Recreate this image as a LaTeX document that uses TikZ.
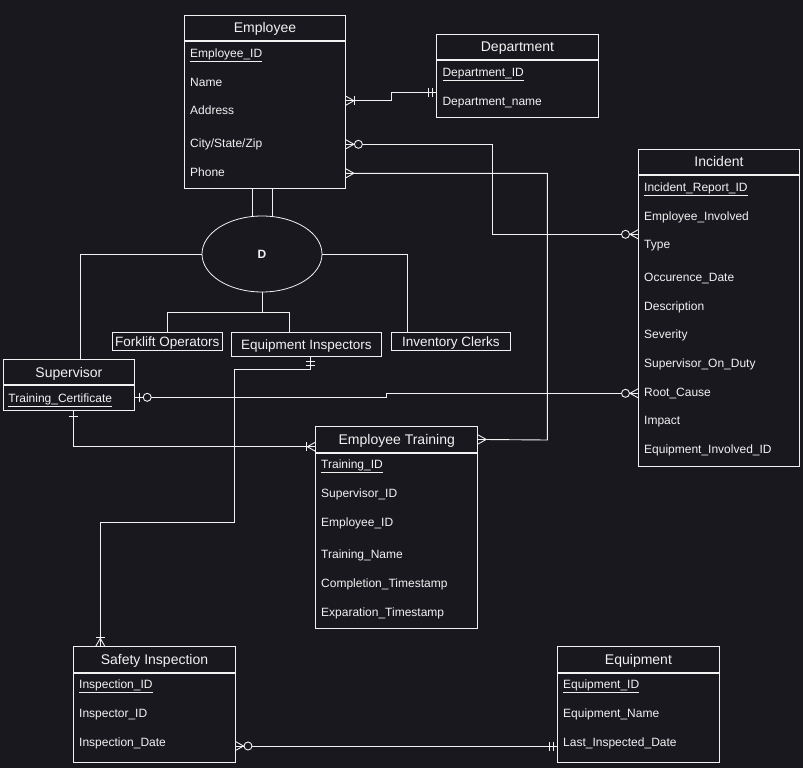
\documentclass[tikz,border=0pt]{standalone}
\usepackage{fontspec}
\setmainfont{Liberation Sans}
\usetikzlibrary{calc,shapes.geometric}
\definecolor{canvas}{HTML}{19181F}
\definecolor{ink}{HTML}{F2F2F2}

\tikzset{
  every node/.style={text=ink, inner sep=0pt},
  wire/.style={draw=ink, line width=0.9pt},
  entbox/.style={draw=ink, line width=0.9pt, rectangle, anchor=north west},
  enttitle/.style={entbox, font=\fontsize{14}{14}\selectfont, text height=10pt, text depth=0pt},
  attr/.style={anchor=west, font=\fontsize{12}{12}\selectfont, text height=8.6pt, text depth=0pt},
  subbox/.style={draw=ink, line width=0.9pt, rectangle, anchor=north west,
    font=\fontsize{13.5}{13.5}\selectfont, text height=9.7pt, text depth=0pt},
  % crow's foot notation, drawn with the entity at the origin and the line along +x
  crow/.pic={\draw[wire] (0,-4.5) -- (8,0) -- (0,4.5);},
  onemany/.pic={\draw[wire] (0,-4.5) -- (8,0) -- (0,4.5); \draw[wire] (8.5,-4.5) -- (8.5,4.5);},
  zeromany/.pic={\draw[wire] (0,-4.5) -- (8,0) -- (0,4.5); \draw[wire, fill=canvas] (12.5,0) circle (4pt);},
  mandone/.pic={\draw[wire] (4,-4.5) -- (4,4.5); \draw[wire] (8,-4.5) -- (8,4.5);},
  zeroone/.pic={\draw[wire] (4,-4.5) -- (4,4.5); \draw[wire, fill=canvas] (12,0) circle (4pt);},
  onlyone/.pic={\draw[wire] (5,-4.5) -- (5,4.5);},
}

\begin{document}
\begin{tikzpicture}[x=1pt, y=-1pt]
\useasboundingbox (0,0) rectangle (803,768);
\fill[canvas] (0,0) rectangle (803,768);

% ---------- Employee ----------
\node[enttitle, minimum width=161pt, minimum height=25pt] (emp) at (184,15) {Employee};
\node[entbox, minimum width=161pt, minimum height=147pt] (empb) at (emp.south west) {};
\node[attr] (empid) at (190,53.3) {\underline{Employee\_ID}};
\node[attr] (empname) at (190,81.7) {Name};
\node[attr] (empaddr) at (190,110) {Address};
\node[attr] (empcity) at (190,143.3) {City/State/Zip};
\node[attr] (empphone) at (190,172) {Phone};

% ---------- Department ----------
\node[enttitle, minimum width=162pt, minimum height=25pt] (dep) at (436,34) {Department};
\node[entbox, minimum width=162pt, minimum height=57pt] (depb) at (dep.south west) {};
\node[attr] (depid) at (442.3,72.3) {\underline{Department\_ID}};
\node[attr] (depname) at (442.3,100.7) {Department\_name};

% ---------- Incident ----------
\node[enttitle, minimum width=161pt, minimum height=25pt] (inc) at (638,149) {Incident};
\node[entbox, minimum width=161pt, minimum height=291pt] (incb) at (inc.south west) {};
\node[attr] (incid) at (644,186.7) {\underline{Incident\_Report\_ID}};
\node[attr] (incemp) at (644,215.7) {Employee\_Involved};
\node[attr] (inctype) at (644,244.3) {Type};
\node[attr] (incdate) at (644,276.7) {Occurence\_Date};
\node[attr] (incdesc) at (644,305.7) {Description};
\node[attr] (incsev) at (644,334.3) {Severity};
\node[attr] (incsup) at (644,362.7) {Supervisor\_On\_Duty};
\node[attr] (inccause) at (644,391.7) {Root\_Cause};
\node[attr] (incimp) at (644,420.3) {Impact};
\node[attr] (inceq) at (644,449) {Equipment\_Involved\_ID};

% ---------- Supervisor ----------
\node[enttitle, minimum width=131.6pt, minimum height=25pt] (sup) at (2.7,359.3) {Supervisor};
\node[entbox, minimum width=131.6pt, minimum height=25pt] (supb) at (sup.south west) {};
\node[attr] (supcert) at (8.3,397.7) {\underline{Training\_Certificate}};

% ---------- Employee Training ----------
\node[enttitle, minimum width=162pt, minimum height=25.4pt] (trn) at (315.3,426.3) {Employee Training};
\node[entbox, minimum width=162pt, minimum height=175.6pt] (trnb) at (trn.south west) {};
\node[attr] (trnid) at (321,464.3) {\underline{Training\_ID}};
\node[attr] (trnsup) at (321,492.7) {Supervisor\_ID};
\node[attr] (trnemp) at (321,521.7) {Employee\_ID};
\node[attr] (trnname) at (321,554.3) {Training\_Name};
\node[attr] (trncomp) at (321,583) {Completion\_Timestamp};
\node[attr] (trnexp) at (321,611.7) {Exparation\_Timestamp};

% ---------- Safety Inspection ----------
\node[enttitle, minimum width=161.2pt, minimum height=25.4pt] (saf) at (73.4,646.3) {Safety Inspection};
\node[entbox, minimum width=161.2pt, minimum height=89.3pt] (safb) at (saf.south west) {};
\node[attr] (safid) at (79,684.3) {\underline{Inspection\_ID}};
\node[attr] (safinsp) at (79,712.7) {Inspector\_ID};
\node[attr] (safdate) at (79,741.7) {Inspection\_Date};

% ---------- Equipment ----------
\node[enttitle, minimum width=162pt, minimum height=25.4pt] (eqp) at (557,646.3) {Equipment};
\node[entbox, minimum width=162pt, minimum height=89.3pt] (eqpb) at (eqp.south west) {};
\node[attr] (eqpid) at (563,684.3) {\underline{Equipment\_ID}};
\node[attr] (eqpname) at (563,712.7) {Equipment\_Name};
\node[attr] (eqpdate) at (563,741.7) {Last\_Inspected\_Date};

% ---------- Specialisation of Employee ----------
\node[ellipse, draw=ink, line width=0.8pt, fill=canvas, minimum width=120pt, minimum height=76pt,
  font=\bfseries\fontsize{12}{12}\selectfont, text height=8.6pt, text depth=0pt] (disj) at (262,254) {D};
\node[subbox, minimum width=110pt, minimum height=18.6pt] (fork) at (111.7,331.7) {Forklift Operators};
\node[subbox, minimum width=150pt, minimum height=24.6pt] (insp) at (231,331.7) {Equipment Inspectors};
\node[subbox, minimum width=119.3pt, minimum height=18.6pt] (clerk) at (390.7,331.7) {Inventory Clerks};

\draw[wire] ([xshift=-10pt]disj.north) -- ([xshift=-10pt]disj.north |- empb.south);
\draw[wire] ([xshift=10pt]disj.north) -- ([xshift=10pt]disj.north |- empb.south);
\draw[wire] (disj.west) -- (80.7,254) -- (sup.north -| 80.7,0);
\draw[wire] (disj.east) -- (407,254) -- (clerk.north -| 407,0);
\draw[wire] (disj.south) -- (262,312.3);
\draw[wire] (fork.north) -- (fork.north |- 0,312.3) -- (289.7,312.3) -- (insp.north -| 289.7,0);

% ---------- Relationships ----------
% Employee >|---|| Department
\coordinate (e1) at (empb.east |- 0,100.7);
\coordinate (d1) at (depb.west |- 0,92.7);
\draw[wire] (e1) -- (391.7,100.7) -- (391.7,92.7) -- (d1);
\pic at (e1) {onemany};
\pic[rotate=180] at (d1) {mandone};

% Employee >o---o< Incident
\coordinate (e2) at (empb.east |- 0,144.3);
\coordinate (i2) at (incb.west |- 0,234.3);
\draw[wire] (e2) -- (492.3,144.3) -- (492.3,234.3) -- (i2);
\pic at (e2) {zeromany};
\pic[rotate=180] at (i2) {zeromany};

% Employee >---< Employee Training
\coordinate (e3) at (empb.east |- 0,173.3);
\coordinate (t3) at (trn.east);
\draw[wire] (e3) -- (547.3,173.3) -- (547.3,440) -- (t3);
\pic at (e3) {crow};
\pic at (t3) {crow};

% Supervisor |o---o< Incident
\coordinate (s4) at (supb.east |- 0,397.3);
\coordinate (i4) at (incb.west |- 0,393.3);
\draw[wire] (s4) -- (386.7,397.3) -- (386.7,393.3) -- (i4);
\pic at (s4) {zeroone};
\pic[rotate=180] at (i4) {zeromany};

% Supervisor |---|< Employee Training
\coordinate (s5) at (supb.south -| 73.3,0);
\coordinate (t5) at (trn.west |- 0,446.7);
\draw[wire] (s5) -- (73.3,446.7) -- (t5);
\pic[rotate=-90] at (s5) {onlyone};
\pic[rotate=180] at (t5) {onemany};

% Equipment Inspectors ||---|< Safety Inspection
\coordinate (p6) at (insp.south -| 310,0);
\coordinate (f6) at (saf.north -| 100.3,0);
\draw[wire] (p6) -- (310,369) -- (234.3,369) -- (234.3,522.3) -- (100.3,522.3) -- (f6);
\pic[rotate=-90] at (p6) {mandone};
\pic[rotate=90] at (f6) {onemany};

% Safety Inspection >o---|| Equipment
\coordinate (f7) at (safb.east |- 0,746);
\coordinate (q7) at (eqpb.west |- 0,746);
\draw[wire] (f7) -- (q7);
\pic at (f7) {zeromany};
\pic[rotate=180] at (q7) {mandone};

\end{tikzpicture}
\end{document}
